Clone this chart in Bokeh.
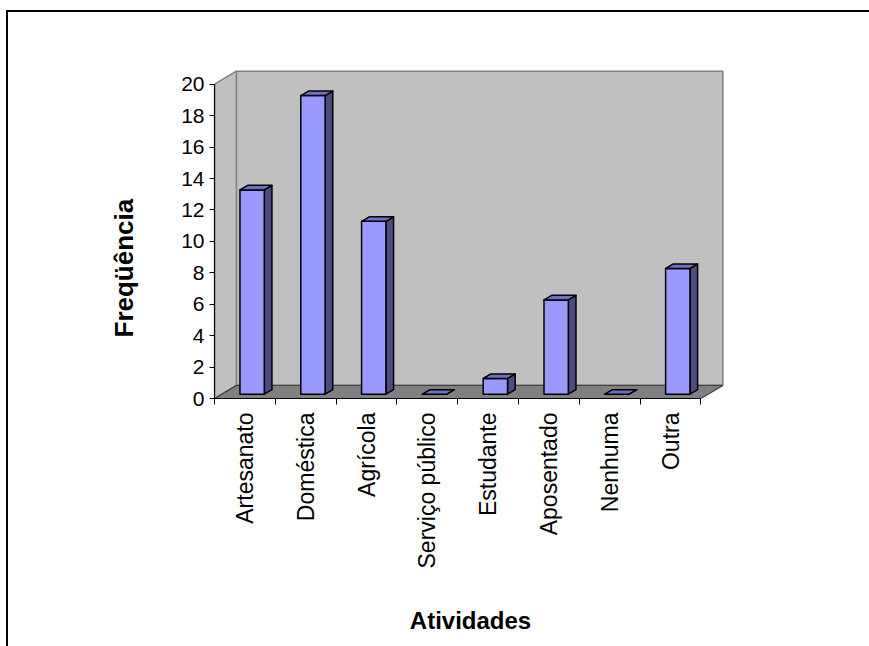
import math

from bokeh.plotting import figure
from bokeh.models import Range1d, FixedTicker, Title
from bokeh.embed import file_html
from bokeh.resources import INLINE

# Frequency of each activity
categories = ["Artesanato", "Doméstica", "Agrícola", "Serviço público",
              "Estudante", "Aposentado", "Nenhuma", "Outra"]
frequencias = [13, 19, 11, 0, 1, 6, 0, 8]
y_ticks = [0, 2, 4, 6, 8, 10, 12, 14, 16, 18, 20]

Y_MAX = 20
N = len(categories)

# 3-D look: depth of the walls in data units, and placement of the columns
DEPTH_X = 0.36      # category units
DEPTH_Y = 0.83      # value units
BAR_WIDTH = 0.40
BAR_FRONT = 0.33    # fraction of depth where the column's front face sits
BAR_BACK = 0.68     # fraction of depth where the column's back face sits

X0, X1 = 0.5, N + 0.5          # category axis extent (centres at 1..N)

p = figure(width=869, height=646,
           x_range=Range1d(X0, X1 + DEPTH_X + 0.06),
           y_range=Range1d(0, Y_MAX + 1.0),
           min_border_left=214, min_border_right=143,
           min_border_top=68, min_border_bottom=248,
           output_backend="svg", toolbar_location=None)
p.outline_line_color = None
p.grid.visible = False
p.background_fill_color = "white"
p.border_fill_color = None

# chart-area border (top and left edges) painted behind the canvas
p.styles = {
    "background-color": "white",
    "background-image": "linear-gradient(black, black), linear-gradient(black, black)",
    "background-position": "6px 10px, 6px 10px",
    "background-size": "2px 100%, 100% 2px",
    "background-repeat": "no-repeat",
}

wall_line = "#808080"

# back wall
p.patch([X0 + DEPTH_X, X1 + DEPTH_X, X1 + DEPTH_X, X0 + DEPTH_X],
        [DEPTH_Y, DEPTH_Y, Y_MAX + DEPTH_Y, Y_MAX + DEPTH_Y],
        fill_color="#C0C0C0", line_color=wall_line, line_width=1.5)
# side wall
p.patch([X0, X0 + DEPTH_X, X0 + DEPTH_X, X0],
        [0, DEPTH_Y, Y_MAX + DEPTH_Y, Y_MAX],
        fill_color="#C0C0C0", line_color=wall_line, line_width=1.5)
# floor
p.patch([X0, X1, X1 + DEPTH_X, X0 + DEPTH_X],
        [0, 0, DEPTH_Y, DEPTH_Y],
        fill_color="#808080", line_color="#404040", line_width=1.2)

# columns
ox, oy = BAR_FRONT * DEPTH_X, BAR_FRONT * DEPTH_Y
dx, dy = (BAR_BACK - BAR_FRONT) * DEPTH_X, (BAR_BACK - BAR_FRONT) * DEPTH_Y

front_l, front_r, front_b, front_t = [], [], [], []
side_xs, side_ys, top_xs, top_ys = [], [], [], []
for i, v in enumerate(frequencias):
    c = i + 1
    L = c + ox - BAR_WIDTH / 2
    R = c + ox + BAR_WIDTH / 2
    b = oy
    t = oy + v
    front_l.append(L); front_r.append(R); front_b.append(b); front_t.append(t)
    side_xs.append([R, R + dx, R + dx, R])
    side_ys.append([b, b + dy, t + dy, t])
    top_xs.append([L, R, R + dx, L + dx])
    top_ys.append([t, t, t + dy, t + dy])

p.patches(side_xs, side_ys, fill_color="#4C4C80", line_color="black",
          line_width=1.5, line_join="round")
p.quad(left=front_l, right=front_r, bottom=front_b, top=front_t,
       fill_color="#9999FF", line_color="black", line_width=1.5,
       line_join="round")
p.patches(top_xs, top_ys, fill_color="#6F6FC8", line_color="black",
          line_width=1.5, line_join="round")

# category axis: labels at centres, tick marks between categories
xa = p.xaxis[0]
xa.ticker = FixedTicker(ticks=list(range(1, N + 1)),
                        minor_ticks=[k + 0.5 for k in range(N + 1)])
xa.major_label_overrides = {i + 1: name for i, name in enumerate(categories)}
xa.bounds = (X0, X1)
xa.major_label_orientation = math.pi / 2
xa.major_tick_line_color = None
xa.major_tick_in = 0
xa.major_tick_out = 6
xa.minor_tick_in = 0
xa.minor_tick_out = 6
xa.minor_tick_line_color = "black"
xa.major_label_standoff = 8
xa.major_label_text_font_size = "23px"
xa.axis_label = "Atividades"
xa.axis_label_standoff = 36
xa.axis_label_text_font_size = "24px"

ya = p.yaxis[0]
ya.ticker = FixedTicker(ticks=y_ticks)
ya.bounds = (0, Y_MAX)
ya.major_tick_in = 0
ya.major_tick_out = 5
ya.minor_tick_line_color = None
ya.major_label_standoff = 5
ya.major_label_text_font_size = "21px"

for ax in (xa, ya):
    ax.axis_line_color = "black"
    ax.axis_line_width = 1.2
    ax.major_label_text_font = "Liberation Sans"
    ax.major_label_text_color = "black"
    ax.axis_label_text_font = "Liberation Sans"
    ax.axis_label_text_font_style = "bold"
    ax.axis_label_text_color = "black"

# value-axis title, placed along the left side
y_title = Title(text="Freqüência", align="left", offset=61, standoff=80,
                text_font="Liberation Sans", text_font_size="26px",
                text_font_style="bold", text_color="black")
p.add_layout(y_title, "left")

open("out.html", "w").write(file_html(p, INLINE))
